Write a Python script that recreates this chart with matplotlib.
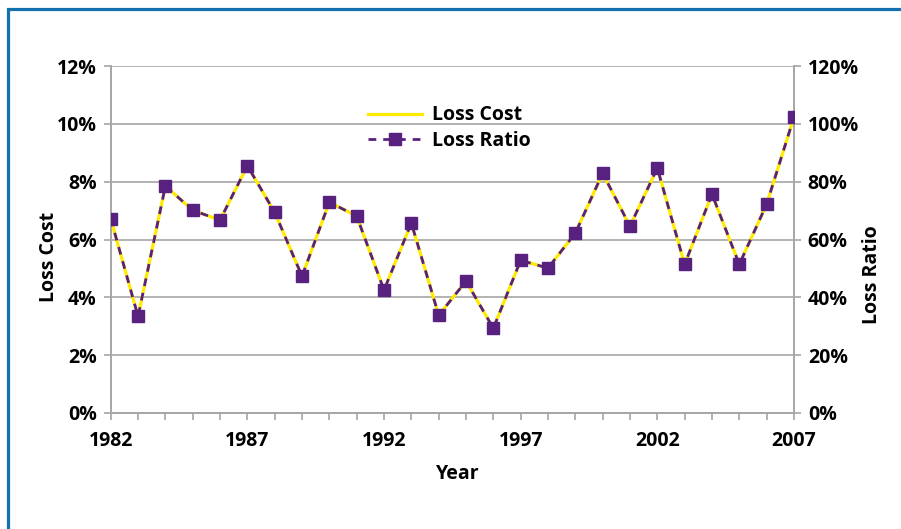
import matplotlib.pyplot as plt
from matplotlib.patches import Rectangle
from matplotlib.ticker import FuncFormatter, MultipleLocator

plt.rcParams["font.family"] = ["Open Sans", "DejaVu Sans"]

years = list(range(1982, 2008))
loss_cost = [6.72, 3.34, 7.85, 7.01, 6.67, 8.55, 6.94, 4.73, 7.29, 6.81,
             4.25, 6.57, 3.38, 4.56, 2.93, 5.28, 5.01, 6.22, 8.29, 6.46,
             8.47, 5.14, 7.57, 5.14, 7.22, 10.23]
loss_ratio = [67.2, 33.4, 78.5, 70.1, 66.7, 85.5, 69.4, 47.3, 72.9, 68.1,
              42.5, 65.7, 33.8, 45.6, 29.3, 52.8, 50.1, 62.2, 82.9, 64.6,
              84.7, 51.4, 75.7, 51.4, 72.2, 102.3]
year_labels = [1982, 1987, 1992, 1997, 2002, 2007]

yellow = "#ffea00"
purple = "#58217f"
gray = "#a6a6a6"

fig = plt.figure(figsize=(9.01, 5.29), dpi=100)
ax = fig.add_axes([0.1229, 0.2193, 0.7583, 0.6559])
ax2 = ax.twinx()

l1, = ax.plot(years, loss_cost, color=yellow, lw=2.3, label="Loss Cost", zorder=3)
l2, = ax2.plot(years, loss_ratio, color=purple, lw=2.0, ls=(0, (2.8, 2.5)),
               marker="s", ms=8, mec=purple, mfc=purple, label="Loss Ratio", zorder=4)

ax.set_xlim(1982, 2007)
ax.set_ylim(0, 12)
ax2.set_ylim(0, 120)
ax.set_zorder(ax2.get_zorder() - 1)
ax2.patch.set_visible(False)

ax.yaxis.set_major_locator(MultipleLocator(2))
ax2.yaxis.set_major_locator(MultipleLocator(20))
ax.yaxis.set_major_formatter(FuncFormatter(lambda v, p: f"{v:.0f}%"))
ax2.yaxis.set_major_formatter(FuncFormatter(lambda v, p: f"{v:.0f}%"))
ax.set_xticks(year_labels)
ax.set_xticks(years, minor=True)

ax.grid(axis="y", color=gray, lw=1.2)
ax.set_axisbelow(True)

for a in (ax, ax2):
    for s in a.spines.values():
        s.set_color(gray)
        s.set_linewidth(1.2)
    a.spines["top"].set_visible(False)
    a.tick_params(which="both", color=gray, width=1.2, length=5, direction="out",
                  labelsize=14, pad=5)
ax.tick_params(axis="x", which="major", pad=8)

for lab in ax.get_xticklabels() + ax.get_yticklabels() + ax2.get_yticklabels():
    lab.set_fontweight("bold")

ax.set_xlabel("Year", fontsize=14, fontweight="bold")
ax.xaxis.set_label_coords(0.508, -0.147)
ax.set_ylabel("Loss Cost", fontsize=14, fontweight="bold")
ax.yaxis.set_label_coords(-0.075, 0.45)
ax2.set_ylabel("Loss Ratio", fontsize=14, fontweight="bold", rotation=90)
ax2.yaxis.set_label_coords(1.099, 0.4)

leg = ax2.legend([l1, l2], ["Loss Cost", "Loss Ratio"], loc="upper left",
                 bbox_to_anchor=(0.351, 0.937), frameon=False,
                 handlelength=2.75, handletextpad=0.55, labelspacing=0.3,
                 prop={"weight": "bold", "size": 14})

fig.patches.append(Rectangle((7.5 / 901, -0.2), 2.0, 1.2 - 9 / 529,
                             transform=fig.transFigure, fill=False,
                             ec="#1272b0", lw=2.3))

fig.savefig("out.png", dpi=100)
